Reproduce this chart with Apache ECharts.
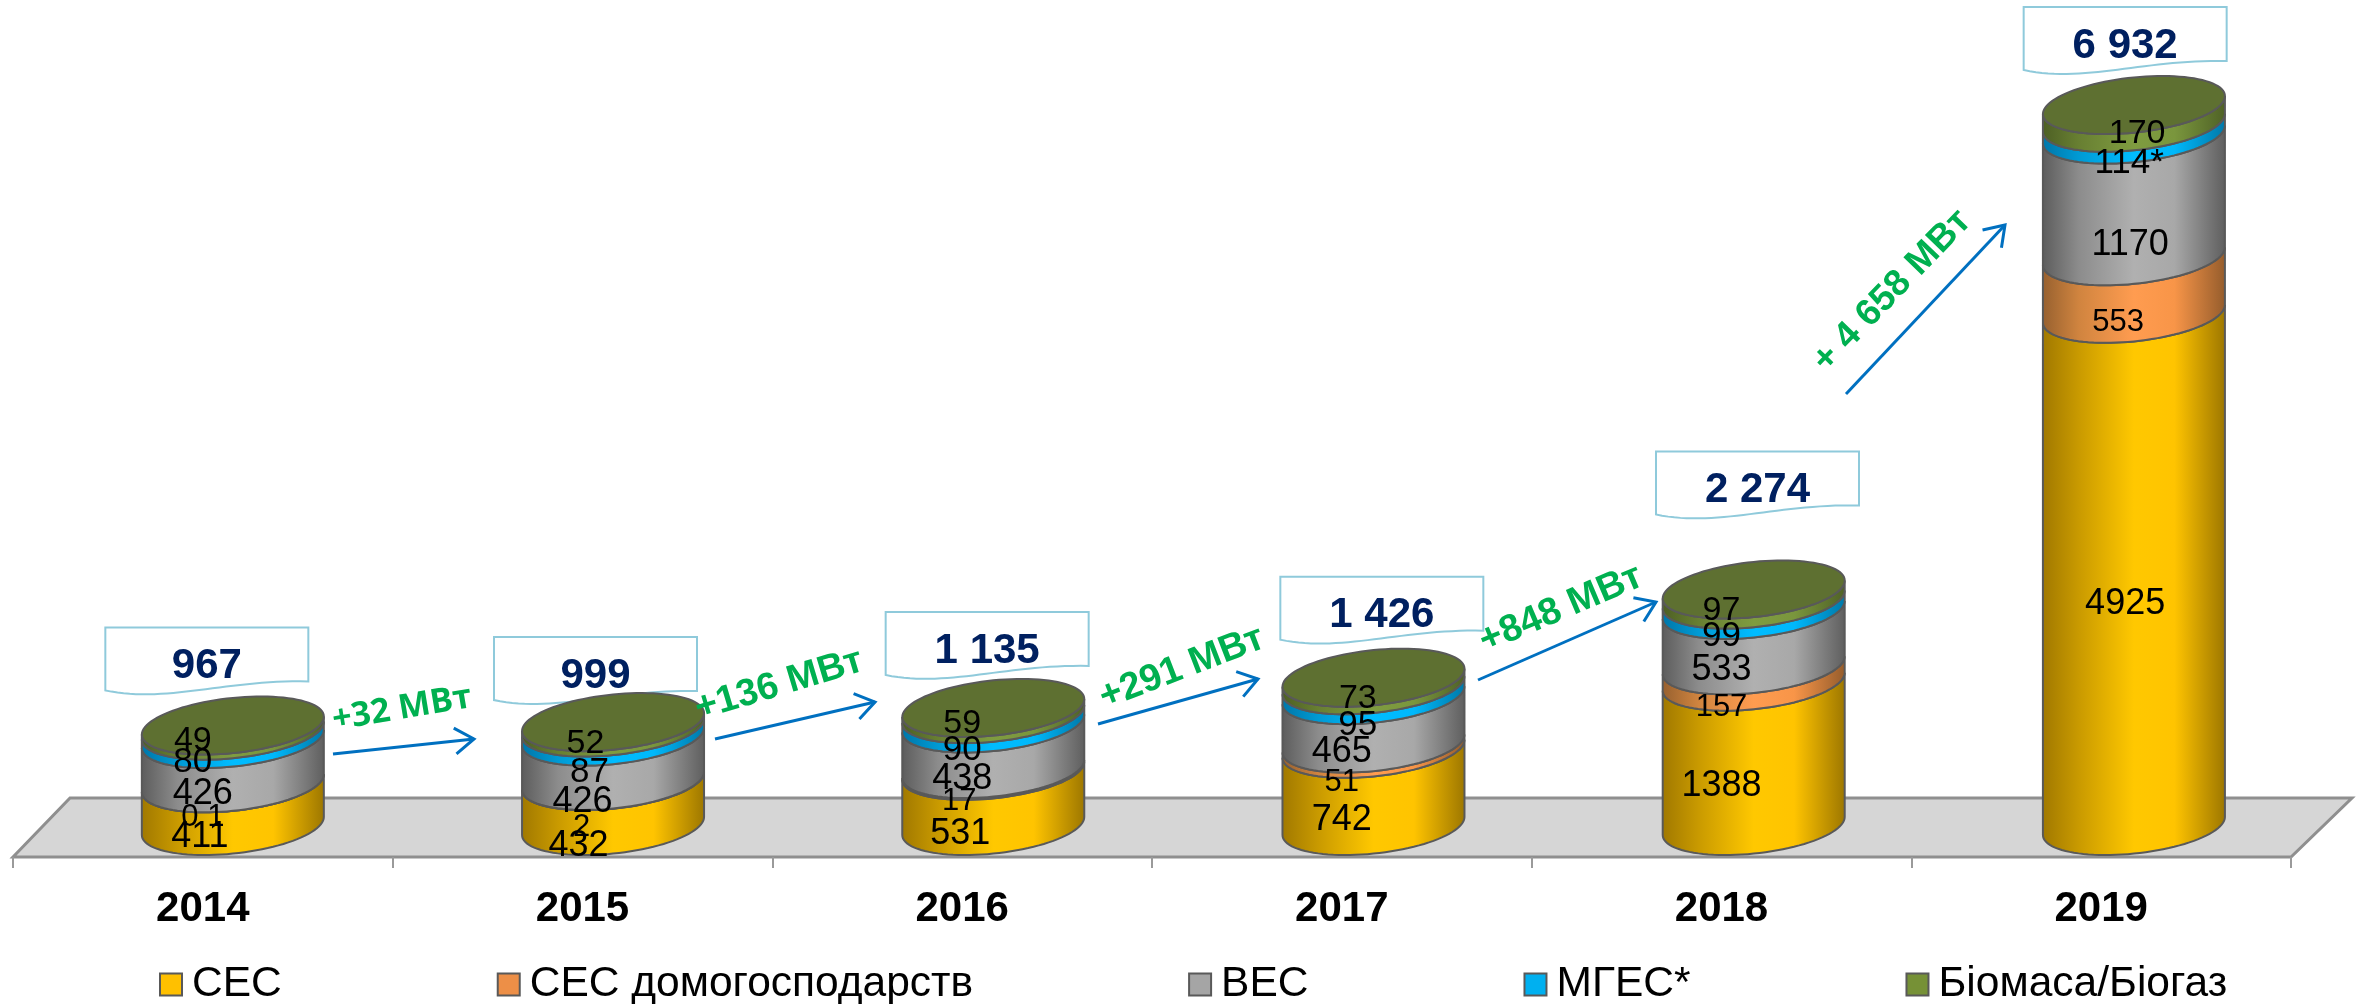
<!DOCTYPE html>
<html><head><meta charset="utf-8">
<script src="https://cdn.jsdelivr.net/npm/echarts@6/dist/echarts.min.js"></script>
<style>html,body{margin:0;padding:0;background:#fff}#c{width:2357px;height:1004px}</style>
</head><body><div id="c"></div>
<script>
const years = ['2014','2015','2016','2017','2018','2019'];
const solar = [411,432,531,742,1388,4925];
const homeSolar = [0.1,2,17,51,157,553];
const wind = [426,426,438,465,533,1170];
const hydro = [80,87,90,95,99,114];
const biomass = [49,52,59,73,97,170];
const totals = [967,999,1135,1426,2274,6932];
const seriesNames = ['СЕС','СЕС домогосподарств','ВЕС','МГЕС*','Біомаса/Біогаз'];
const seriesValues = [solar,homeSolar,wind,hydro,biomass];

// appearance
const FONT = '"Liberation Sans", Arial, sans-serif';
const legendColors = ['#ffc000','#ed8f47','#a5a5a5','#00b0f0','#769136'];
const bandStops = [
  ['#a07800','#c99a00','#ffc800','#ffc400','#9c7600'],
  ['#96602f','#d0843f','#ff9c50','#f89548','#945c2c'],
  ['#5c5c5c','#8c8c8c','#b0b0b0','#a8a8a8','#5e5e5e'],
  ['#0076a8','#009ad4','#00bcff','#00b8fb','#0078a8'],
  ['#4d5f24','#687f32','#7f9c40','#7a963d','#4f6126']
];
const labelSizes = [36,31,36,35,34];
// nudges of each data label from its band's middle, [dx,dy] per band per year
const labelNudge = [
  [[-3,30],[-4,41],[-2,34],[0,31],[0,30],[24,32]],
  [[0,32],[-1,44],[-3,30],[0,34],[0,32],[17,35]],
  [[0,31],[0,41],[0,31],[0,31],[0,30],[29,48]],
  [[-10,26],[7,38],[0,30],[16,33],[0,30],[28,33]],
  [[-10,11],[3,17],[0,11],[16,15],[0,14],[36,18]]
];
const LABEL_DROP = 2;
// callout nudges from the stack top, [dx of centre, dy of box top]
const calloutNudge = [[4,-98],[13,-85],[25,-96],[40,-101],[36,-138],[24,-98]];
const growthLabels = ['+32 МВт','+136 МВт','+291 МВт','+848 МВт','+ 4 658 МВт'];

const CYL_DX = 30, CYL_DRIFT = 0.55, RX = 91, SKEW = 9, RY = 27.6;
function arc(cx, cy, from, to, n) {
  const pts = [];
  for (let k = 0; k <= n; k++) {
    const t = from + (to - from) * k / n;
    pts.push([cx + RX * Math.cos(t), cy - SKEW * Math.cos(t) + RY * Math.sin(t)]);
  }
  return pts;
}
function bandItem(sIdx) {
  return function (params, api) {
    const i = api.value(0), lo = api.value(1), hi = api.value(2), v = api.value(3);
    const a = api.coord([i, lo]), b = api.coord([i, hi]), m = api.coord([i, (lo + hi) / 2]);
    const cx = a[0] + CYL_DX + i * CYL_DRIFT;
    const st = bandStops[sIdx];
    const fill = new echarts.graphic.LinearGradient(0, 0, 1, 0, [
      {offset:0,color:st[0]},{offset:.2,color:st[1]},{offset:.5,color:st[2]},{offset:.72,color:st[3]},{offset:1,color:st[4]}
    ]);
    const front = arc(cx, a[1], Math.PI, 0, 48).concat(arc(cx, b[1], 0, Math.PI, 48));
    const children = [{type:'polygon',shape:{points:front},z2:1,silent:true,
      style:{fill:fill,stroke:'#595959',lineWidth:2}}];
    if (sIdx === seriesValues.length - 1) {
      children.push({type:'polygon',shape:{points:arc(cx,b[1],0,Math.PI*2,96)},z2:2,silent:true,
        style:{fill:'#5e7031',stroke:'#595959',lineWidth:2}});
    }
    let txt = String(v).replace('.', ' ');
    if (sIdx === 3 && i === 5) txt += '*';
    const n = labelNudge[sIdx][i];
    children.push({type:'text',z2:100,silent:true,
      x:a[0]+n[0], y:m[1]+n[1]+LABEL_DROP,
      style:{text:txt,fontFamily:FONT,fontSize:labelSizes[sIdx],fill:'#000',align:'center',verticalAlign:'middle'}});
    return {type:'group',children:children};
  };
}
function spacedNumber(v){ return String(v).replace(/\B(?=(\d{3})+$)/g,' '); }
function calloutItem(params, api) {
  const i = api.value(0), t = api.value(1);
  const c = api.coord([i, t]), n = calloutNudge[i];
  const cx = c[0] + n[0], top = c[1] + n[1], w = 203;
  const l = cx - w/2, pts = [[l,top],[l+w,top],[l+w,top+54]];
  const P0=[w,54],P1=[.6*w,52],P2=[.3*w,76],P3=[0,63];
  for (let k=1;k<=30;k++){
    const q=k/30,r=1-q;
    pts.push([l+r*r*r*P0[0]+3*r*r*q*P1[0]+3*r*q*q*P2[0]+q*q*q*P3[0],
              top+r*r*r*P0[1]+3*r*r*q*P1[1]+3*r*q*q*P2[1]+q*q*q*P3[1]]);
  }
  return {type:'group',children:[
    {type:'polygon',shape:{points:pts},silent:true,style:{fill:'#fff',stroke:'#8fcadb',lineWidth:2}},
    {type:'text',x:cx,y:top+39,silent:true,z2:50,
      style:{text:spacedNumber(t),fontFamily:FONT,fontWeight:'bold',fontSize:42,fill:'#002060',align:'center',verticalAlign:'middle'}}
  ]};
}
const cum = years.map(()=>0);
const bandSeries = seriesNames.map((name,s)=>{
  const data = years.map((y,i)=>{
    const lo = cum[i]; cum[i] += seriesValues[s][i];
    return [i, lo, cum[i], seriesValues[s][i]];
  });
  return {name:name,type:'custom',z:5,silent:true,data:data,
    encode:{x:0,y:[1,2]},renderItem:bandItem(s),
    itemStyle:{color:legendColors[s]}};
});

// annotations in page pixels
const GROUND = {l:13,r:2291,y:857,backY:798,lift:57,rightLift:61};
const arrows = [[333,754,474,739],[715,739,875,702],[1098,724,1258,679],[1478,680,1656,602],[1846,394,2005,225]];
const growthPos = [[402,709,9.5,34,'"Open Sans"'],[779,685,16.6,38,FONT],[1182,668,21,38,FONT],[1561,609,23,38,FONT],[1892,291,46,37,FONT]];
const graphics = [{type:'polygon',z:0,silent:true,shape:{points:[
  [GROUND.l,GROUND.y],[GROUND.l+GROUND.lift,GROUND.backY],[GROUND.r+GROUND.rightLift,GROUND.backY],[GROUND.r,GROUND.y]]},
  style:{fill:'#d6d6d6',stroke:'#8f8f8f',lineWidth:3}}];
arrows.forEach(a=>{
  const ang=Math.atan2(a[3]-a[1],a[2]-a[0]),L=23,sp=.6;
  graphics.push({type:'polyline',z:20,silent:true,shape:{points:[[a[0],a[1]],[a[2],a[3]]]},style:{stroke:'#0070c0',lineWidth:3,fill:null}});
  graphics.push({type:'polyline',z:20,silent:true,shape:{points:[
    [a[2]-L*Math.cos(ang-sp),a[3]-L*Math.sin(ang-sp)],[a[2],a[3]],[a[2]-L*Math.cos(ang+sp),a[3]-L*Math.sin(ang+sp)]]},
    style:{stroke:'#0070c0',lineWidth:3,fill:null}});
});
growthLabels.forEach((t,i)=>{
  const p=growthPos[i];
  graphics.push({type:'text',z:30,silent:true,x:p[0],y:p[1],rotation:p[2]*Math.PI/180,
    style:{text:t,fontFamily:p[4],fontWeight:'bold',fontSize:p[3],fill:'#00b050',align:'center',verticalAlign:'middle'}});
});

const chart = echarts.init(document.getElementById('c'),null,{renderer:'canvas'});
chart.setOption({
  animation:false,
  backgroundColor:'#fff',
  grid:{left:GROUND.l,right:2357-GROUND.r,top:0,bottom:1004-GROUND.y},
  xAxis:{type:'category',data:years,boundaryGap:true,
    axisLine:{show:false,onZero:false},
    axisTick:{show:true,length:11,alignWithLabel:false,lineStyle:{color:'#9a9a9a',width:2}},
    axisLabel:{margin:31,fontFamily:FONT,fontWeight:'bold',fontSize:42,color:'#000'}},
  yAxis:{type:'value',min:-298,max:7942,show:false,splitLine:{show:false}},
  legend:{left:154,top:958,itemWidth:22,itemHeight:22,itemGap:215,icon:'rect',
    data:seriesNames,selectedMode:false,
    itemStyle:{borderColor:'#595959',borderWidth:2},
    textStyle:{fontFamily:FONT,fontSize:42.5,color:'#000',padding:[0,0,0,5]}},
  graphic:{elements:graphics},
  series:[{type:'custom',name:'Всього',z:3,silent:true,
    data:totals.map((t,i)=>[i,t]),encode:{x:0,y:1},renderItem:calloutItem}].concat(bandSeries)
});
</script></body></html>
